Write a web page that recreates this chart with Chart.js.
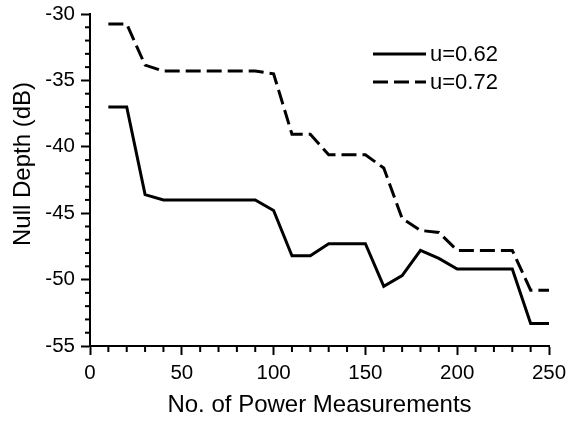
<!DOCTYPE html>
<html>
<head>
<meta charset="utf-8">
<script src="https://cdn.jsdelivr.net/npm/chart.js@4"></script>
<style>
  html, body { margin: 0; padding: 0; background: #fff; }
  #wrap { width: 569px; height: 422px; }
</style>
</head>
<body>
<div id="wrap"><canvas id="nullChart" width="569" height="422"></canvas></div>
<script>
// data
const measurements = [10, 20, 30, 40, 50, 60, 70, 80, 90, 100, 110, 120, 130,
                      140, 150, 160, 170, 180, 190, 200, 210, 220, 230, 240, 250];
const depthU062 = [-37, -37, -43.6, -44, -44, -44, -44, -44, -44, -44.8, -48.2, -48.2, -47.3,
                   -47.3, -47.3, -50.5, -49.7, -47.8, -48.4, -49.2, -49.2, -49.2, -49.2, -53.3, -53.3];
const depthU072 = [-30.75, -30.75, -33.85, -34.3, -34.3, -34.3, -34.3, -34.3, -34.3, -34.5, -39.05, -39.05, -40.6,
                   -40.6, -40.6, -41.6, -45.4, -46.3, -46.45, -47.8, -47.8, -47.8, -47.8, -50.8, -50.8];
const seriesNames = ['u=0.62', 'u=0.72'];
const xTickValues = [0, 50, 100, 150, 200, 250];
const yTickValues = [-55, -50, -45, -40, -35, -30];
const yTitle = 'Null Depth (dB)';

const FONT = "'Liberation Sans', Arial, sans-serif";

// minor ticks, y title (sits a bit above the middle in the original) + legend
const extras = {
    id: 'extras',
    afterDraw(chart) {
        const ctx = chart.ctx;
        const xs = chart.scales.x, ys = chart.scales.y;
        ctx.save();
        ctx.strokeStyle = '#000';
        ctx.lineWidth = 2;
        ctx.setLineDash([]);
        for (let v = 0; v <= 250; v += 10) {
            if (v % 50 === 0) continue;
            const px = xs.getPixelForValue(v);
            ctx.beginPath();
            ctx.moveTo(px, ys.bottom);
            ctx.lineTo(px, ys.bottom + 6);
            ctx.stroke();
        }
        for (let v = -55; v <= -30; v += 1) {
            if (v % 5 === 0) continue;
            const py = ys.getPixelForValue(v);
            ctx.beginPath();
            ctx.moveTo(xs.left, py);
            ctx.lineTo(xs.left - 5, py);
            ctx.stroke();
        }

        ctx.fillStyle = '#000';
        ctx.save();
        ctx.translate(23, ys.top + 150);
        ctx.rotate(-Math.PI / 2);
        ctx.font = '24px ' + FONT;
        ctx.textAlign = 'center';
        ctx.textBaseline = 'middle';
        ctx.fillText(yTitle, 0, 0);
        ctx.restore();

        // legend
        const lx = 373, ly = 54, gap = 28;
        ctx.font = '22px ' + FONT;
        ctx.textBaseline = 'middle';
        chart.data.datasets.forEach((ds, i) => {
            const y = ly + i * gap;
            ctx.lineWidth = 3;
            ctx.setLineDash(ds.borderDash || []);
            ctx.beginPath();
            ctx.moveTo(lx, y);
            ctx.lineTo(lx + 53, y);
            ctx.stroke();
            ctx.setLineDash([]);
            ctx.fillText(ds.label, lx + 57, y + 1);
        });
        ctx.restore();
    }
};

new Chart(document.getElementById('nullChart'), {
    type: 'line',
    data: {
        labels: measurements,
        datasets: [
            {
                label: seriesNames[0],
                data: measurements.map((x, i) => ({ x: x, y: depthU062[i] })),
                borderColor: '#000',
                borderWidth: 3,
                pointRadius: 0,
                tension: 0,
                fill: false
            },
            {
                label: seriesNames[1],
                data: measurements.map((x, i) => ({ x: x, y: depthU072[i] })),
                borderColor: '#000',
                borderWidth: 3,
                borderDash: [15, 6],
                pointRadius: 0,
                tension: 0,
                fill: false
            }
        ]
    },
    options: {
        responsive: false,
        animation: false,
        layout: { padding: { left: 0, right: 20, top: 14, bottom: 0 } },
        plugins: {
            legend: { display: false },
            tooltip: { enabled: false }
        },
        scales: {
            x: {
                type: 'linear',
                min: 0,
                max: 250,
                afterBuildTicks: (s) => { s.ticks = xTickValues.map(v => ({ value: v })); },
                afterFit: (s) => { s.height = 76; s.paddingLeft = 0; s.paddingRight = 0; },
                border: { color: '#000', width: 2 },
                grid: { drawOnChartArea: false, drawTicks: true, tickLength: 9, tickColor: '#000', tickWidth: 2 },
                ticks: { color: '#000', padding: 6, maxRotation: 0, font: { family: FONT, size: 20.5 } },
                title: {
                    display: true,
                    text: 'No. of Power Measurements',
                    color: '#000',
                    font: { family: FONT, size: 24 },
                    padding: { top: 0, bottom: 2 }
                }
            },
            y: {
                type: 'linear',
                min: -55,
                max: -30,
                afterBuildTicks: (s) => { s.ticks = yTickValues.map(v => ({ value: v })); },
                afterFit: (s) => { s.width = 90; s.paddingTop = 0; s.paddingBottom = 0; },
                border: { color: '#000', width: 2 },
                grid: { drawOnChartArea: false, drawTicks: true, tickLength: 9, tickColor: '#000', tickWidth: 2 },
                ticks: { color: '#000', padding: 6, font: { family: FONT, size: 20.5 } }
            }
        }
    },
    plugins: [extras]
});
</script>
</body>
</html>
